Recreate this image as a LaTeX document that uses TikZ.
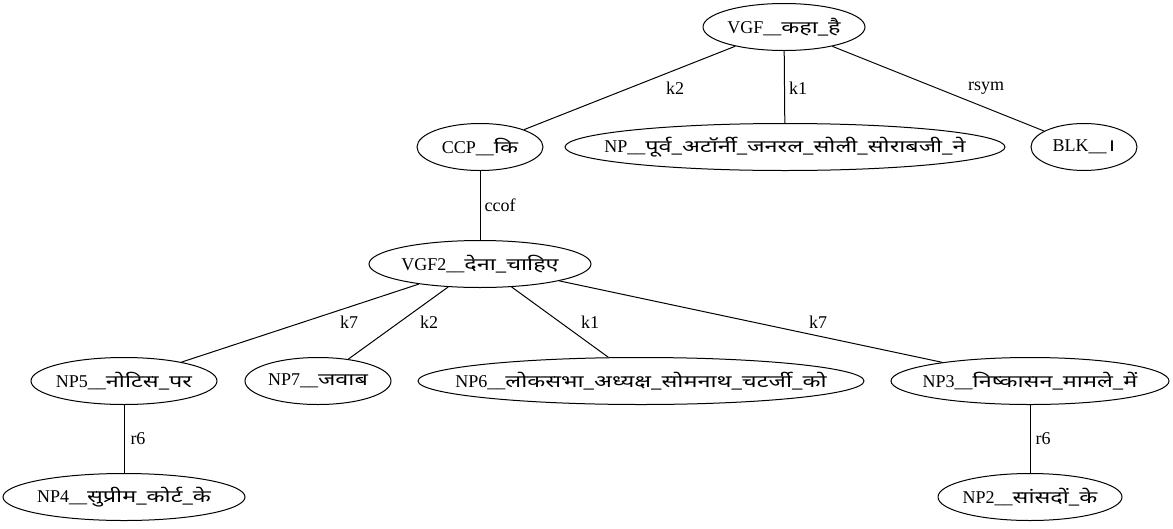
\documentclass[tikz,border=0pt]{standalone}
\usepackage{fontspec}
\setmainfont{Liberation Serif}
\newfontfamily\devafont[Script=Devanagari,Scale=0.95,FakeStretch=1.37]{Noto Sans}
\newcommand{\dv}[1]{{\devafont #1}}
\newcommand{\zb}[1]{\makebox[0pt]{#1}}
\usetikzlibrary{shapes.geometric}
\tikzset{
  el/.style={draw, ellipse, line width=1pt, inner sep=0pt, minimum height=47pt, font=\fontsize{18pt}{20pt}\selectfont},
  elab/.style={font=\fontsize{18pt}{20pt}\selectfont, inner sep=0pt},
  edge/.style={draw, line width=1pt}
}
\begin{document}
\begin{tikzpicture}[x=1pt,y=-1pt]
\useasboundingbox[fill=white] (0,0) rectangle (1173,528);
\node[el, minimum width=162pt] (vgf) at (784,27) {\zb{VGF\_\_\dv{कहा\_है}}};
\node[el, minimum width=126pt] (ccp) at (480,147) {\zb{CCP\_\_\dv{कि}}};
\node[el, minimum width=440pt] (np) at (785,147) {\zb{NP\_\_\dv{पूर्व\_अटॉर्नी\_जनरल\_सोली\_सोराबजी\_ने}}};
\node[el, minimum width=106pt] (blk) at (1084,147) {\zb{BLK\_\_\dv{।}}};
\node[el, minimum width=222pt] (vgf2) at (480,264) {\zb{VGF2\_\_\dv{देना\_चाहिए}}};
\node[el, minimum width=186pt] (np5) at (124,381) {\zb{NP5\_\_\dv{नोटिस\_पर}}};
\node[el, minimum width=146pt] (np7) at (318,381) {\zb{NP7\_\_\dv{जवाब}}};
\node[el, minimum width=446pt] (np6) at (641,381) {\zb{NP6\_\_\dv{लोकसभा\_अध्यक्ष\_सोमनाथ\_चटर्जी\_को}}};
\node[el, minimum width=278pt] (np3) at (1030,381) {\zb{NP3\_\_\dv{निष्कासन\_मामले\_में}}};
\node[el, minimum width=242pt] (np4) at (124,497) {\zb{NP4\_\_\dv{सुप्रीम\_कोर्ट\_के}}};
\node[el, minimum width=184pt] (np2) at (1030,497) {\zb{NP2\_\_\dv{सांसदों\_के}}};

\path[edge] (vgf) -- (ccp);
\path[edge] (vgf) -- (np);
\path[edge] (vgf) -- (blk);
\path[edge] (ccp) -- (vgf2);
\path[edge] (vgf2) -- (np5);
\path[edge] (vgf2) -- (np7);
\path[edge] (vgf2) -- (np6);
\path[edge] (vgf2) -- (np3);
\path[edge] (np5) -- (np4);
\path[edge] (np3) -- (np2);

\node[elab] (l1) at (675,88) {k2};
\node[elab] (l2) at (798,88) {k1};
\node[elab] (l3) at (986,88) {rsym};
\node[elab] (l4) at (500,205) {ccof};
\node[elab] (l5) at (349,322) {k7};
\node[elab] (l6) at (429,322) {k2};
\node[elab] (l7) at (590,322) {k1};
\node[elab] (l8) at (818,322) {k7};
\node[elab] (l9) at (138,439) {r6};
\node[elab] (l10) at (1043,439) {r6};
\end{tikzpicture}
\end{document}
